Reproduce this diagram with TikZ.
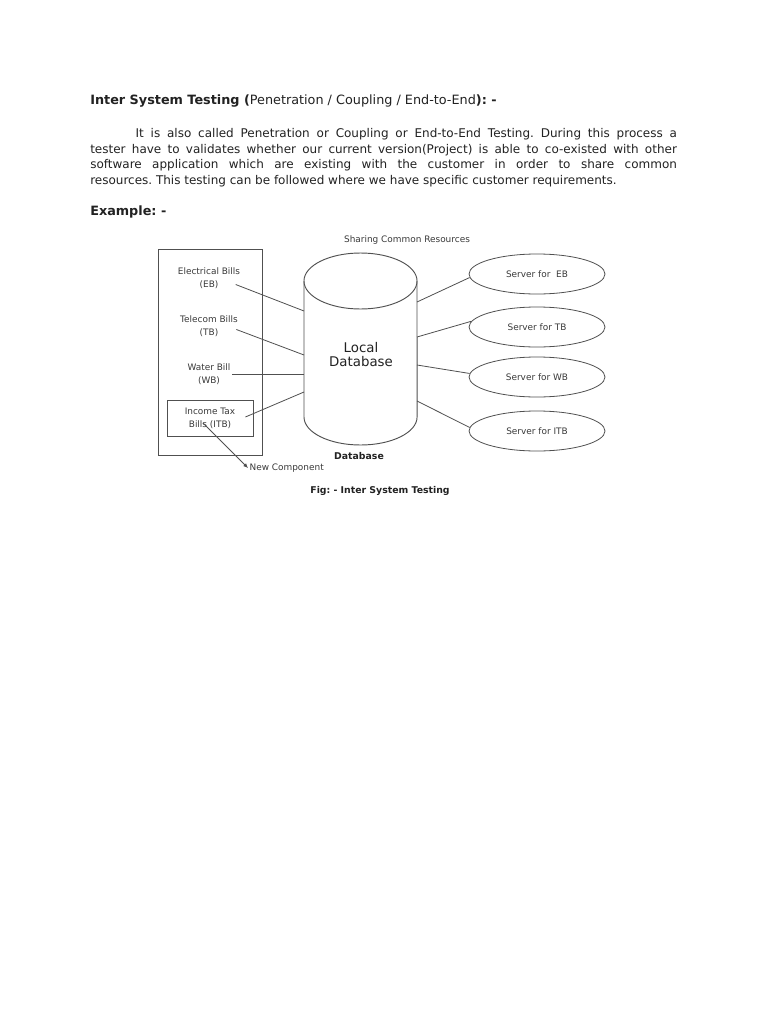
\documentclass[tikz,border=0pt]{standalone}
\usepackage{fontspec}
\setmainfont{DejaVu Sans}
\usetikzlibrary{arrows.meta,positioning,calc,shapes.geometric}
\definecolor{clInk}{HTML}{222222}
\definecolor{clLabel}{HTML}{3A3A3A}
\definecolor{clLine}{HTML}{505050}
\tikzset{
  label/.style={align=center, inner sep=1pt, text=clLabel,
                font=\fontsize{6.7}{9.7}\selectfont},
  server/.style={ellipse, draw=clLine, line width=0.6pt, minimum width=102pt,
                 minimum height=30pt, inner sep=0pt, text=clLabel,
                 font=\fontsize{6.7}{9.7}\selectfont},
  link/.style={draw=clLine, line width=0.6pt},
  dbline/.style={draw=clLine, line width=0.7pt},
  caption/.style={text=clInk, inner sep=0pt, font=\fontsize{7}{8}\selectfont\bfseries},
}
\frenchspacing

\begin{document}
\begin{tikzpicture}[x=0.75pt, y=-0.75pt]
  \fill[white] (0,0) rectangle (768,1024);

  % heading and text
  \node[anchor=base west, inner sep=0pt, text=clInk, font=\fontsize{9.6}{11}\selectfont] (title) at (90,104)
    {\textbf{Inter System Testing (}Penetration / Coupling / End-to-End\textbf{): -}};
  \node[anchor=north west, inner sep=0pt, text width=440pt, align=justify, text=clInk,
        font=\fontsize{9}{11.8}\selectfont] (para) at (90,128)
    {\hspace*{34pt}It is also called Penetration or Coupling or End-to-End Testing. During this process a\linebreak
     tester have to validates whether our current version(Project) is able to co-existed with other\linebreak
     software application which are existing with the customer in order to share common\linebreak
     resources. This testing can be followed where we have specific customer requirements.};
  \node[anchor=base west, inner sep=0pt, text=clInk, font=\fontsize{9.6}{11}\selectfont\bfseries] (example) at (90,215)
    {Example: -};

  % left: bills
  \draw[link] (158,249) rectangle (262,455);
  \node[label] (eb) at (209,278.5) {Electrical Bills\\(EB)};
  \node[label] (tb) at (209,326.5) {Telecom Bills\\(TB)};
  \node[label] (wb) at (209,374) {Water Bill\\(WB)};
  \node[label, draw=clLine, line width=0.6pt, minimum width=64.5pt, minimum height=27pt] (itb) at (210,418)
    {Income Tax\\Bills (ITB)};
  \node[label, anchor=west] (newc) at (248,468) {New Component};

  % database
  \draw[dbline] (304,281) -- (304,417) arc[start angle=180, end angle=360, x radius=42.4pt, y radius=21pt] -- (417,281);
  \draw[dbline] (360.5,281) ellipse [x radius=42.4pt, y radius=21pt];
  \node[text=clInk, align=center, font=\fontsize{10}{10.5}\selectfont] (dbtext) at (361,355) {Local\\Database};
  \node[caption] (dbname) at (359,456) {Database};
  \node[label] (share) at (407,240) {Sharing Common Resources};
  \coordinate (dbL1) at (304,311);
  \coordinate (dbL2) at (304,355);
  \coordinate (dbL3) at (304,374);
  \coordinate (dbL4) at (304,392);
  \coordinate (dbR1) at (417,302);
  \coordinate (dbR2) at (417,337);
  \coordinate (dbR3) at (417,365);
  \coordinate (dbR4) at (417,401);

  % servers
  \node[server] (srvEB) at (537,274) {Server for~~EB};
  \node[server] (srvTB) at (537,327) {Server for TB};
  \node[server] (srvWB) at (537,377) {Server for WB};
  \node[server] (srvITB) at (537,431) {Server for ITB};

  \node[caption] (fig) at (380,491) {Fig: - Inter System Testing};

  % connectors
  \draw[link] ($(eb.east)+(-6,6)$) -- (dbL1);
  \draw[link] ($(tb.east)+(-3,3)$) -- (dbL2);
  \draw[link] (wb.east) -- (dbL3);
  \draw[link] ($(itb.east)+(-8,-1)$) -- (dbL4);
  \draw[link] (dbR1) -- (srvEB.183);
  \draw[link] (dbR2) -- (srvTB.175);
  \draw[link] (dbR3) -- (srvWB.177);
  \draw[link] (dbR4) -- (srvITB.177);
  \draw[link, -{Latex[length=3.5pt, width=3pt]}] ($(itb.center)+(-7,5)$) -- (newc.west);
\end{tikzpicture}
\end{document}
